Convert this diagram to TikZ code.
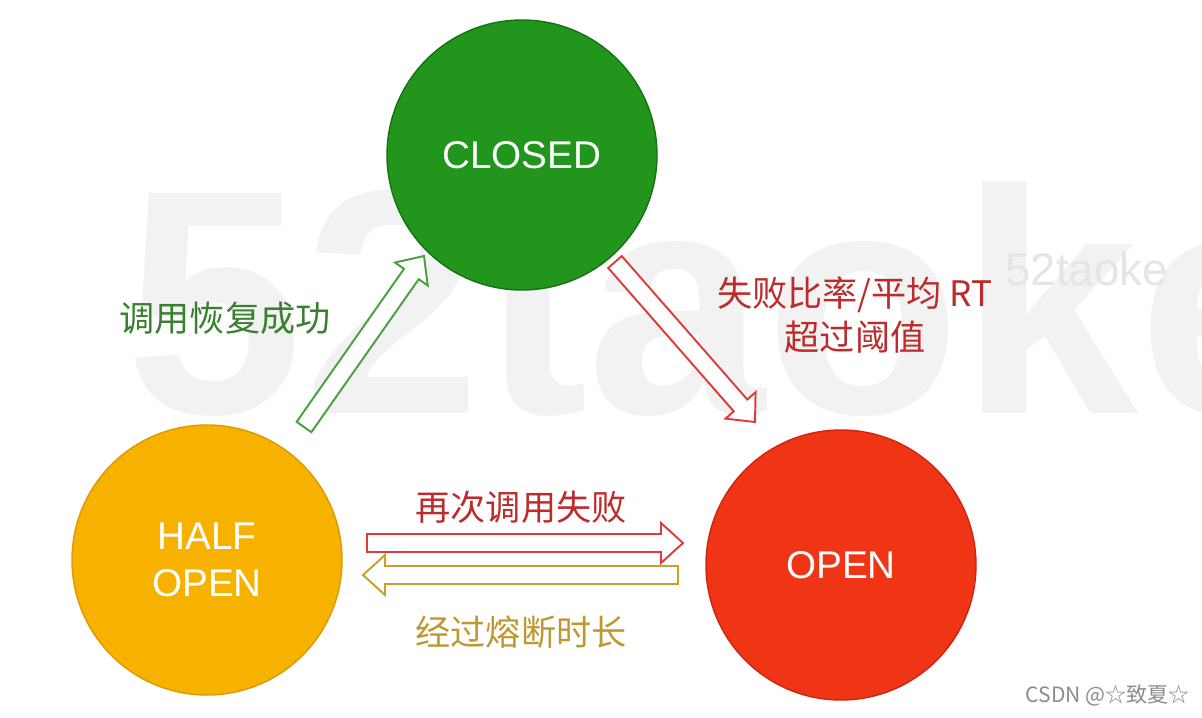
\documentclass[tikz,border=0pt]{standalone}
\usepackage{fontspec}
\setmainfont{Liberation Sans}
\newfontfamily\cjk{Noto Sans CJK SC}
\usepackage{xcolor}
\usetikzlibrary{calc, positioning}

\definecolor{closedfill}{RGB}{34,150,28}
\definecolor{closeddraw}{RGB}{22,112,20}
\definecolor{halffill}{RGB}{247,178,0}
\definecolor{halfdraw}{RGB}{222,152,0}
\definecolor{openfill}{RGB}{240,52,22}
\definecolor{opendraw}{RGB}{208,36,14}
\definecolor{arrgreen}{RGB}{72,160,62}
\definecolor{arrred}{RGB}{220,60,60}
\definecolor{arrgold}{RGB}{200,160,40}
\definecolor{txtgreen}{RGB}{58,128,48}
\definecolor{txtred}{RGB}{188,44,44}
\definecolor{txtgold}{RGB}{192,152,50}

\begin{document}
\begin{tikzpicture}[
  state/.style     = {circle, minimum size=5.4cm, inner sep=0pt,
                      text=white, align=center, line width=0.8pt,
                      font=\fontsize{22}{27}\selectfont},
  lbl/.style       = {font=\cjk\fontsize{20}{25}\selectfont, align=center},
  blockarrow/.style= {fill=white, line width=1.1pt, line join=miter,
    to path={
      ($(\tikztostart)!0.18cm!90:(\tikztotarget)$)
      -- ($(\tikztotarget)!0.44cm!(\tikztostart)!0.18cm!-90:(\tikztostart)$)
      -- ($(\tikztotarget)!0.44cm!(\tikztostart)!0.40cm!-90:(\tikztostart)$)
      -- (\tikztotarget)
      -- ($(\tikztotarget)!0.44cm!(\tikztostart)!0.40cm!90:(\tikztostart)$)
      -- ($(\tikztotarget)!0.44cm!(\tikztostart)!0.18cm!90:(\tikztostart)$)
      -- ($(\tikztostart)!0.18cm!-90:(\tikztotarget)$)
      -- cycle}}
]
\useasboundingbox (0,0) rectangle (24.04,-14.34);

% ===================== WATERMARKS =====================
\node[anchor=base west, inner sep=0pt, text=black!5,
      font=\fontsize{182}{182}\selectfont\bfseries]
  (wmark) at (2.5,-8.26) {52taoke};
\node[anchor=base west, inner sep=0pt, text=black!10,
      font=\fontsize{26}{26}\selectfont]
  (wsmall) at (20.1,-5.7) {52taoke};

% ===================== STATES =====================
\node[state, fill=closedfill, draw=closeddraw]
  (closed) at (10.44,-3.1) {CLOSED};
\node[state, fill=halffill, draw=halfdraw]
  (half) at (4.14,-11.2) {HALF\\OPEN};
\node[state, fill=openfill, draw=opendraw]
  (open) at (16.82,-11.3) {OPEN};

% arrow ends
\coordinate (gs) at ($(half)+(1.94,2.66)$);
\coordinate (gt) at ($(closed)+(-1.96,-2.02)$);
\coordinate (rs) at ($(closed)+(1.86,-2.14)$);
\coordinate (rt) at ($(open)+(-1.72,2.86)$);
\coordinate (hs) at ($(half)+(3.2,0.34)$);
\coordinate (ht) at ($(open)+(-3.16,0.44)$);
\coordinate (ys) at ($(open)+(-3.26,-0.2)$);
\coordinate (yt) at ($(half)+(3.12,-0.3)$);

% ===================== TRANSITIONS =====================
\draw[blockarrow, draw=arrgreen] (gs) to (gt);
\draw[blockarrow, draw=arrred]   (rs) to (rt);
\draw[blockarrow, draw=arrred]   (hs) to (ht);
\draw[blockarrow, draw=arrgold]  (ys) to (yt);

% labels
\node[lbl, text=txtgreen] (lrecover) at (4.5,-6.36) {调用恢复成功};
\node[lbl, text=txtred]   (lfail)    at (17.1,-6.3) {失败比率/平均 RT\\超过阈值};
\node[lbl, text=txtred]   (lagain)   at (10.42,-10.14) {再次调用失败};
\node[lbl, text=txtgold]  (lwait)    at (10.42,-12.64) {经过熔断时长};

% ===================== FOOTER =====================
\node[anchor=east, text=black!45, font=\cjk\fontsize{12}{14}\selectfont]
  (csdn) at (23.92,-13.9) {CSDN @☆致夏☆};

\end{tikzpicture}
\end{document}
